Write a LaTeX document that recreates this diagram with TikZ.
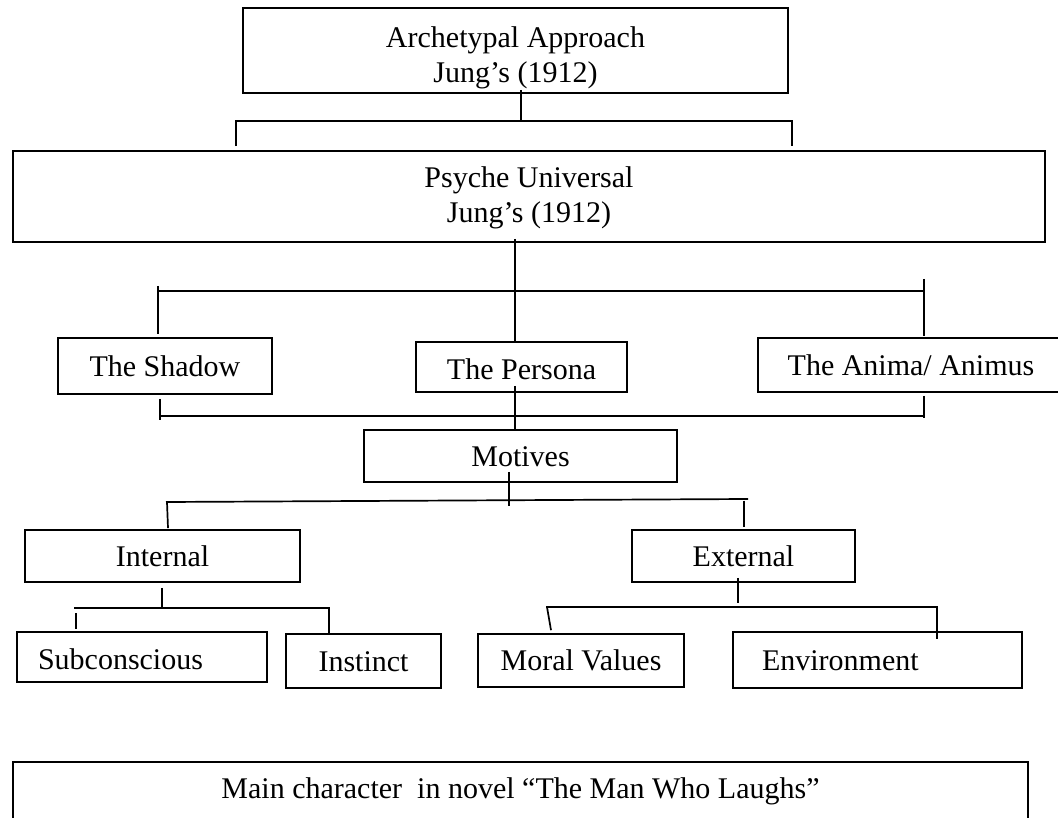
\documentclass[tikz,border=0pt]{standalone}
\usepackage{fontspec}
\setmainfont{Liberation Serif}
\usepackage{tikz}
\usetikzlibrary{calc}
\tikzstyle{link}=[line width=1.7pt]

\begin{document}
\begin{tikzpicture}[x=1pt,y=-1pt]
\tikzset{cell/.style={draw,line width=1.7pt,inner sep=0pt,font=\fontsize{30}{35}\selectfont,text height=20.4pt,text depth=0pt},
tall/.style={draw,line width=1.7pt,inner sep=0pt,font=\fontsize{30}{35}\selectfont,align=center}}
\useasboundingbox (0,0) rectangle (1058,818);

\node[tall,minimum width=545pt,minimum height=85pt] (arch) at (515.5,50.5) {\rule{0pt}{34.5pt}Archetypal Approach\\Jung's (1912)};
\node[tall,minimum width=1032pt,minimum height=91pt] (psyche) at (529,196.5) {\rule{0pt}{22.5pt}Psyche Universal\\Jung's (1912)};

\node[cell,minimum width=214pt,minimum height=56pt] (shadow) at (165,366) {The Shadow};
\node[cell,minimum width=211pt,minimum height=50pt,text height=26pt] (persona) at (521.5,367) {The Persona};
\node[cell,minimum width=306pt,minimum height=54pt] (anima) at (911,365) {The Anima/ Animus};

\node[cell,minimum width=313pt,minimum height=52pt] (motives) at (520.5,456) {Motives};

\node[cell,minimum width=275pt,minimum height=52pt] (internal) at (162.5,556) {Internal};
\node[cell,minimum width=223pt,minimum height=52pt] (external) at (743.5,556) {External};

\node[cell,minimum height=50pt,inner xsep=21pt,text width=208pt,align=left,text height=24pt] (subcon) at (142,657) {Subconscious};
\node[cell,minimum width=155pt,minimum height=54pt] (instinct) at (363.5,661) {Instinct};
\node[cell,minimum width=206pt,minimum height=53pt] (moral) at (581,660.5) {Moral Values};
\node[cell,minimum height=56pt,inner xsep=29pt,text width=231pt,align=left] (environ) at (877.5,660) {Environment};

\node[cell,anchor=north,minimum width=1015pt,minimum height=70pt,text depth=16.4pt] (mainchar) at (520.5,761) {Main character\ \ in novel “The Man Who Laughs”};

\coordinate (k1) at (521,121);
\coordinate (b1l) at (236,121);
\coordinate (b1r) at (792,121);
\draw[link] ($(arch.south)+(5.5,-4)$) -- (k1);
\draw[link] ($(psyche.north -| b1l)+(0,-4)$) -- (b1l) -- (b1r) -- ($(psyche.north -| b1r)+(0,-4)$);

\coordinate (b2l) at (158,291);
\coordinate (b2r) at (924,291);
\draw[link] ($(psyche.south)+(-14,-4)$) coordinate (p0) -- (p0 |- persona.north);
\draw[link] (b2l) -- (b2r);
\draw[link] ($(b2l)+(0,-5)$) -- ($(shadow.north -| b2l)+(0,-3)$);
\draw[link] ($(b2r)+(0,-12)$) -- ($(anima.north -| b2r)+(0,-1)$);

\coordinate (b3l) at (160,416);
\coordinate (b3r) at (924,416);
\draw[link] (b3l) -- (b3r);
\draw[link] ($(shadow.south -| b3l)+(0,4)$) -- ($(b3l)+(0,4)$);
\draw[link] ($(anima.south -| b3r)+(0,3)$) -- ($(b3r)+(0,2)$);
\draw[link] ($(persona.south)+(-6.5,-7)$) coordinate (p1) -- (p1 |- motives.north);

\coordinate (b4l) at (166,502);
\coordinate (b4r) at (748,499);
\draw[link] ($(motives.south)+(-11.5,-11)$) -- ++(0,34);
\draw[link] (b4l) -- (b4r);
\draw[link] ($(b4l)+(1,0)$) -- ($(internal.north)+(5.5,-1)$);
\draw[link] ($(b4r)+(-4,1.5)$) -- ($(external.north)+(0.5,-2)$);

\coordinate (b5l) at (74,608);
\coordinate (b5r) at (329,608);
\draw[link] ($(internal.south)+(-0.5,5)$) coordinate (p2) -- (p2 |- b5l);
\draw[link] (b5l) -- (b5r) -- (b5r |- instinct.north);
\draw[link] ($(b5l)+(2,5)$) -- ($(subcon.north -| b5l)+(2,-2)$);

\coordinate (b6l) at (546,607);
\coordinate (b6r) at (937,607);
\draw[link] ($(external.south)+(-5.5,-5)$) -- ++(0,25);
\draw[link] (b6l) -- (b6r) -- ($(environ.north -| b6r)+(0,8)$);
\draw[link] ($(b6l)+(1,0)$) -- ($(moral.north)+(-30,-3)$);

\end{tikzpicture}
\end{document}
